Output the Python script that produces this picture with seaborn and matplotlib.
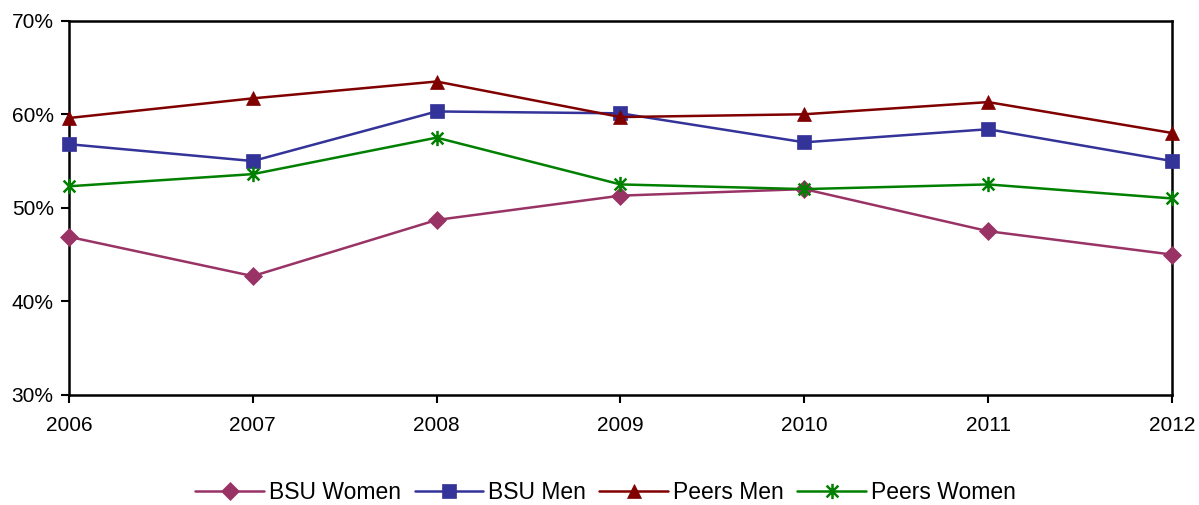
import numpy as np
import pandas as pd
import seaborn as sns
import matplotlib.pyplot as plt
from matplotlib.path import Path
from matplotlib.ticker import PercentFormatter

years = [2006, 2007, 2008, 2009, 2010, 2011, 2012]
bsu_women = [46.9, 42.7, 48.7, 51.3, 52.0, 47.5, 45.0]
bsu_men = [56.8, 55.0, 60.3, 60.1, 57.0, 58.4, 55.0]
peers_men = [59.6, 61.7, 63.5, 59.7, 60.0, 61.3, 58.0]
peers_women = [52.3, 53.6, 57.5, 52.5, 52.0, 52.5, 51.0]

sns.set_style("white")
plt.rcParams["font.family"] = ["Liberation Sans", "DejaVu Sans"]
plt.rcParams["text.color"] = "black"

# excel style asterisk: an x plus a vertical bar
star = Path([(-1, -1), (1, 1), (-1, 1), (1, -1), (0, -1.3), (0, 1.3)],
            [Path.MOVETO, Path.LINETO, Path.MOVETO, Path.LINETO, Path.MOVETO, Path.LINETO])

series = [
    ("BSU Women", bsu_women, "#993366", "D", 9),
    ("BSU Men", bsu_men, "#333399", "s", 10),
    ("Peers Men", peers_men, "#800000", "^", 10),
    ("Peers Women", peers_women, "#008000", star, 11),
]

fig = plt.figure(figsize=(11.99, 5.05), dpi=100)
ax = fig.add_axes([0.0575, 0.218, 0.92, 0.741])

for name, vals, color, mk, ms in series:
    df = pd.DataFrame({"year": years, "pct": vals})
    sns.lineplot(data=df, x="year", y="pct", ax=ax, color=color, linewidth=1.8,
                 marker=mk, markersize=ms, markeredgecolor=color,
                 markerfacecolor=color, markeredgewidth=1.8 if mk is star else 0.5,
                 label=name, clip_on=False, zorder=3)

ax.set_xlim(2006, 2012)
ax.set_ylim(30, 70)
ax.set_xticks(years)
ax.set_yticks([30, 40, 50, 60, 70])
ax.yaxis.set_major_formatter(PercentFormatter(decimals=0))
ax.set_xlabel("")
ax.set_ylabel("")
for s in ax.spines.values():
    s.set_color("black")
    s.set_linewidth(1.8)
    s.set_zorder(2)
ax.tick_params(axis="both", direction="out", length=6, width=1.5, colors="black",
               labelsize=15, pad=5, bottom=True, left=True)
ax.tick_params(axis="x", pad=9)

handles, labels = ax.get_legend_handles_labels()
ax.get_legend().remove()
fig.legend(handles, labels, loc="center", bbox_to_anchor=(0.505, 0.025), ncol=4,
           frameon=False, fontsize=16.5, handlelength=3, columnspacing=0.6,
           handletextpad=0.2, borderpad=0)

fig.savefig("out.png", dpi=100)
